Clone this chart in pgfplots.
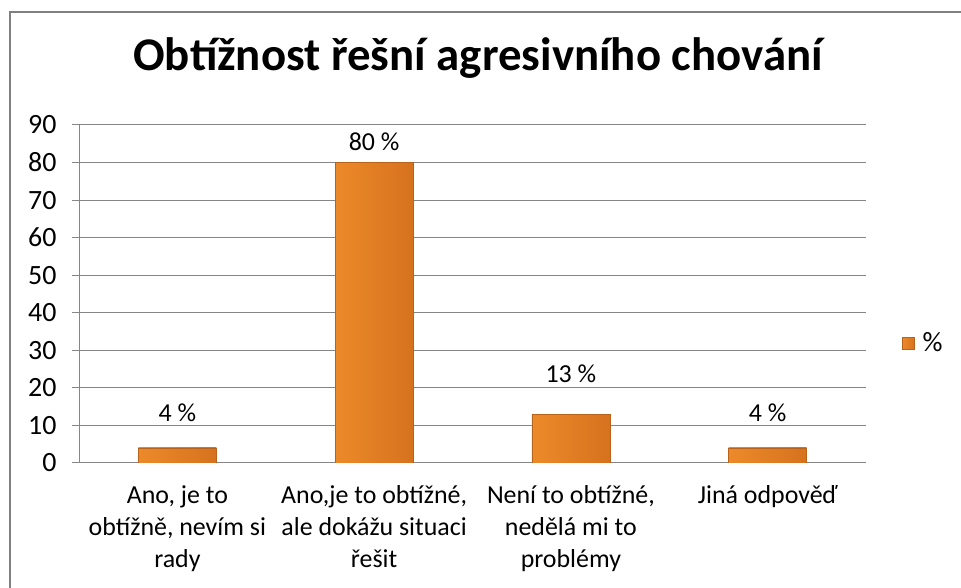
\documentclass[border=0pt]{standalone}
\usepackage{fontspec}
\setmainfont{Carlito}
\usepackage{pgfplots}
\pgfplotsset{compat=1.18}
\definecolor{gridgray}{HTML}{868686}
\definecolor{framegray}{HTML}{808080}
\definecolor{barL}{HTML}{EC8A2A}
\definecolor{barM}{HTML}{F6972F}
\definecolor{barR}{HTML}{D6721E}
\definecolor{barEdge}{HTML}{B8621C}
\pgfplotsset{barstyle/.style={draw=barEdge, left color=barL, middle color=barM, right color=barR}}
\begin{document}
\begin{tikzpicture}[x=1bp,y=1bp]
\useasboundingbox (0,0) rectangle (961,588);
\draw[framegray, line width=2bp] (10,0) -- (10,576) -- (961,576);
\node[anchor=base, font=\bfseries\fontsize{47}{52}\selectfont] at (478,517) {Obtížnost řešní agresivního chování};
\begin{axis}[
  at={(79bp,125bp)}, anchor=south west,
  scale only axis, width=787bp, height=338bp,
  font=\fontsize{26}{32}\selectfont,
  /pgf/number format/assume math mode=true,
  axis lines*=left,
  axis line style={gridgray, line width=1bp},
  ymin=0, ymax=90, ytick={0,10,...,90},
  ymajorgrids, grid style={gridgray, line width=1bp},
  tick align=outside, major tick length=7bp,
  y tick style={gridgray, line width=1bp},
  yticklabel style={xshift=-12bp, font=\fontsize{28}{32}\selectfont},
  xmin=-0.5, xmax=3.5, xtick={0,1,2,3},
  x tick style={draw=none},
  xticklabels={{Ano, je to\\obtížně, nevím si\\rady},
               {Ano,je to obtížné,\\ale dokážu situaci\\řešit},
               {Není to obtížné,\\nedělá mi to\\problémy},
               {Jiná odpověď}},
  xticklabel style={align=center, yshift=-12bp},
  extra x ticks={-0.5,0.5,1.5,2.5,3.5},
  extra x tick labels={},
  extra x tick style={grid=none, tick style={draw=gridgray, line width=1bp}},
  ybar, bar width=78bp, bar shift=0pt,
  nodes near coords={\pgfmathprintnumber{\pgfplotspointmeta}~\%},
  nodes near coords style={anchor=base, font=\fontsize{26}{30}\selectfont},
  legend style={at={(1.073,0.355)}, anchor=center, draw=none, fill=none,
    font=\fontsize{28}{30}\selectfont,
    /tikz/every odd column/.append style={column sep=6bp}},
  legend image code/.code={\draw[#1] (0bp,-6bp) rectangle (12bp,6bp);},
]
\addplot[barstyle, forget plot, nodes near coords style={yshift=26bp}]
  coordinates {(0,4)};
\addplot[barstyle, forget plot, nodes near coords style={yshift=12bp}]
  coordinates {(1,80)};
\addplot[barstyle, forget plot, nodes near coords style={yshift=32bp}]
  coordinates {(2,13)};
\addplot[barstyle, forget plot, nodes near coords style={yshift=26bp}]
  coordinates {(3,4)};
\addlegendimage{barstyle}
\addlegendentry{\%}
\end{axis}
\end{tikzpicture}
\end{document}
